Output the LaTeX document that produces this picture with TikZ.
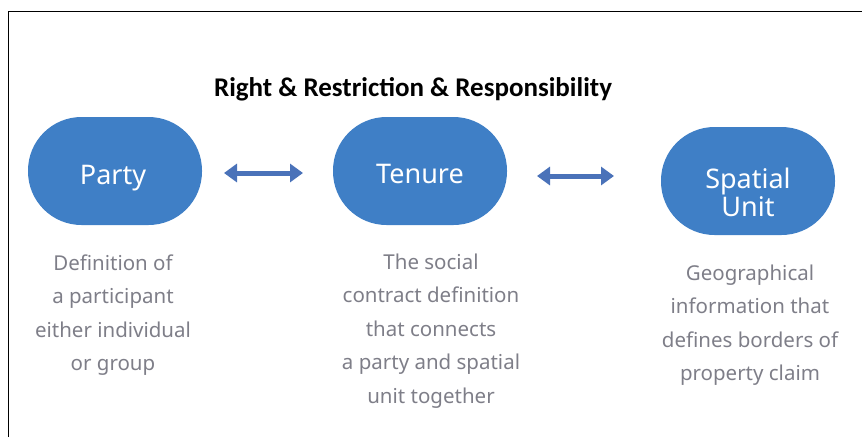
\documentclass[tikz,border=0pt]{standalone}
\usepackage{fontspec}
\setmainfont{Noto Sans}
\newfontfamily\titlefont{Carlito}
\usetikzlibrary{arrows.meta}
\definecolor{pillblue}{HTML}{3F7FC6}
\definecolor{arrowblue}{HTML}{4A72B9}
\definecolor{desc}{HTML}{7E7E88}
\tikzset{
  pill/.style={draw=none, fill=pillblue, rounded corners=53.5pt, minimum width=174pt, minimum height=108pt, inner sep=0pt},
  pilltext/.style={text=white, font=\fontsize{27}{28}\selectfont, align=center, inner sep=0pt, anchor=base},
  descr/.style={text=desc, font=\fontsize{20.5}{33.5}\selectfont, align=center, inner sep=0pt, anchor=base},
  dblarrow/.style={draw=arrowblue, line width=5pt, {Triangle[width=18pt,length=13pt]}-{Triangle[width=18pt,length=13pt]}}
}
\begin{document}
\begin{tikzpicture}[x=1pt,y=-1pt]
\useasboundingbox (0,0) rectangle (862,437);
\draw[line width=1pt] (8,437) -- (8,11) -- (862,11);
\node[font=\titlefont\bfseries\fontsize{27}{30}\selectfont, inner sep=0pt] (title) at (413,89) {Right \& Restriction \& Responsibility};
\node[pill] (party) at (115,171) {};
\node[pill] (tenure) at (420,171) {};
\node[pill] (spatial) at (748,181) {};
\node[pilltext] (partyt) at (113,184) {Party};
\node[pilltext] (tenuret) at (420,183) {Tenure};
\node[pilltext] (spatialt) at (748,216) {Spatial\\Unit};
\coordinate (a1) at (224,173);
\coordinate (a2) at (303,173);
\coordinate (b1) at (537,176);
\coordinate (b2) at (614,176);
\draw[dblarrow] (a1) -- (a2);
\draw[dblarrow] (b1) -- (b2);
\node[descr] (pd) at (113,370.5) {Definition of\\a participant\\either individual\\or group};
\node[descr] (td) at (431,403) {The social\\contract definition\\that connects\\a party and spatial\\unit together};
\node[descr] (sd) at (750,380.5) {Geographical\\information that\\defines borders of\\property claim};
\end{tikzpicture}
\end{document}
